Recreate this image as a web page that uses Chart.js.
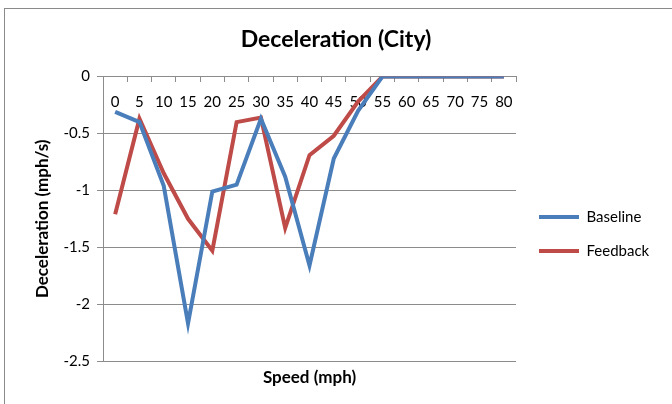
<!DOCTYPE html>
<html>
<head>
<meta charset="utf-8">
<script src="https://cdn.jsdelivr.net/npm/chart.js@4"></script>
<style>
  body { margin: 0; background: #fff; }
  canvas { display: block; }
</style>
</head>
<body>
<canvas id="decelChart" width="672" height="404"></canvas>
<script>
const speeds = ['0', '5', '10', '15', '20', '25', '30', '35', '40', '45', '50', '55', '60', '65', '70', '75', '80'];
const baseline = [-0.31, -0.40, -0.96, -2.17, -1.01, -0.95, -0.37, -0.88, -1.66, -0.72, -0.30, 0, 0, 0, 0, 0, 0];
const feedback = [-1.21, -0.37, -0.85, -1.25, -1.53, -0.40, -0.36, -1.33, -0.69, -0.52, -0.22, 0, 0, 0, 0, 0, 0];
const yTicks = [0, -0.5, -1, -1.5, -2, -2.5];

const FONT = 'Lato, "Open Sans", sans-serif';
const GRID = '#8c8c8c';

// thin grey frame round the whole chart
const frame = {
    id: 'frame',
    beforeDraw(chart) {
        const ctx = chart.ctx;
        ctx.save();
        ctx.fillStyle = '#fff';
        ctx.fillRect(0, 0, chart.width, chart.height);
        ctx.strokeStyle = '#8a8a8a';
        ctx.lineWidth = 1;
        ctx.strokeRect(4.5, 8.5, chart.width + 10, chart.height + 10);
        ctx.restore();
    }
};

// fixed-width legend column, entries nudged down next to the plot middle
const legendBox = {
    id: 'legendBox',
    afterInit(chart) {
        const lg = chart.legend;
        if (!lg) return;
        const fit = lg.fit.bind(lg);
        lg.fit = function () {
            fit();
            this.width = 156;
        };
        const draw = lg.draw.bind(lg);
        lg.draw = function () {
            const ctx = chart.ctx;
            ctx.save();
            ctx.translate(4, 32);
            draw();
            ctx.restore();
        };
    }
};

new Chart(document.getElementById('decelChart'), {
    type: 'line',
    data: {
        labels: speeds,
        datasets: [{
            label: 'Baseline',
            data: baseline,
            borderColor: '#4a7ebb',
            backgroundColor: '#4a7ebb',
            borderWidth: 4,
            pointRadius: 0,
            pointStyle: 'line',
            tension: 0
        }, {
            label: 'Feedback',
            data: feedback,
            borderColor: '#be4b48',
            backgroundColor: '#be4b48',
            borderWidth: 4,
            pointRadius: 0,
            pointStyle: 'line',
            tension: 0
        }]
    },
    options: {
        responsive: false,
        animation: false,
        layout: { padding: 0 },
        plugins: {
            title: {
                display: true,
                text: 'Deceleration (City)',
                color: '#000',
                font: { family: FONT, size: 23, weight: 'bold', lineHeight: 1.2 },
                padding: { top: 26, bottom: 23 }
            },
            legend: {
                position: 'right',
                labels: {
                    usePointStyle: true,
                    pointStyleWidth: 40,
                    color: '#000',
                    font: { family: FONT, size: 15 },
                    padding: 19
                }
            },
            tooltip: { enabled: false }
        },
        scales: {
            x: {
                type: 'category',
                position: { y: 0 },
                offset: true,
                grid: {
                    offset: true,
                    drawOnChartArea: false,
                    drawTicks: true,
                    tickLength: 5,
                    color: GRID
                },
                border: { color: GRID },
                ticks: {
                    autoSkip: false,
                    maxRotation: 0,
                    padding: 12,
                    color: '#000',
                    font: { family: FONT, size: 15 }
                }
            },
            xTitle: {
                type: 'category',
                position: 'bottom',
                grid: { display: false, drawTicks: false },
                border: { display: false },
                ticks: { display: false },
                title: {
                    display: true,
                    text: 'Speed (mph)',
                    color: '#000',
                    font: { family: FONT, size: 17, weight: 'bold', lineHeight: 1.2 },
                    padding: { top: 8, bottom: 16 }
                },
                afterFit(scale) { scale.height = 43; }
            },
            y: {
                min: -2.5,
                max: 0,
                afterBuildTicks(scale) {
                    scale.ticks = yTicks.map(v => ({ value: v }));
                },
                grid: {
                    color: GRID,
                    tickLength: 6
                },
                border: { color: GRID },
                ticks: {
                    padding: 7,
                    color: '#000',
                    font: { family: FONT, size: 15 },
                    callback: v => String(v)
                },
                title: {
                    display: true,
                    text: 'Deceleration (mph/s)',
                    color: '#000',
                    font: { family: FONT, size: 17, weight: 'bold', lineHeight: 1.2 },
                    padding: { top: 32, bottom: 0 }
                },
                afterFit(scale) { scale.width = 103; }
            }
        }
    },
    plugins: [frame, legendBox]
});
</script>
</body>
</html>
